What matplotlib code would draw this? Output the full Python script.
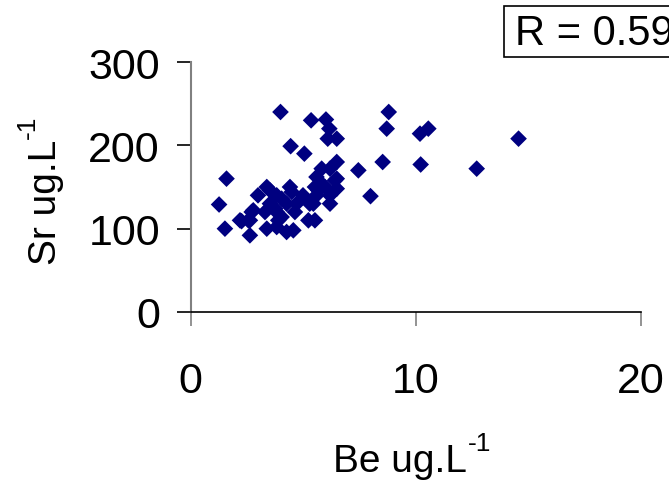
import matplotlib
matplotlib.use("Agg")
import matplotlib.pyplot as plt
from matplotlib.patches import Rectangle

plt.rcParams['font.family'] = ['Liberation Sans', 'DejaVu Sans']

be = [4.0, 5.36, 6.02, 6.17, 6.1, 6.5, 4.45, 5.06,
      1.6, 7.46, 8.0, 1.27, 1.53, 2.64, 3.39, 3.0,
      8.81, 8.72, 10.2, 10.57, 14.58, 8.54, 10.23, 12.72,
      6.5, 6.2, 5.83, 5.6, 6.5, 5.53, 5.98, 6.5,
      5.0, 5.6, 6.2, 4.42, 3.83, 4.27, 4.72, 5.46, 6.2,
      3.53, 2.79, 3.31, 3.83, 4.64, 2.2, 2.64, 3.9, 5.24, 5.53,
      3.39, 4.27, 4.57,
      3.76, 4.05, 3.83, 4.5, 3.53, 5.9, 6.42, 2.57, 2.27, 5.3, 4.05, 5.68, 2.72]
sr = [240, 230, 231, 220, 208, 208, 199, 190,
      160, 170, 139, 129, 100, 92, 150, 140,
      240, 220, 214, 220, 208, 180, 177, 172,
      180, 172, 172, 162, 160, 150, 150, 148,
      140, 140, 140, 150, 140, 130, 130, 130, 130,
      130, 122, 120, 120, 120, 110, 110, 110, 110, 110,
      100, 96, 98,
      124, 114, 102, 144, 146, 152, 158, 110, 109, 130, 136, 146, 120]

x_ticks = [0, 10, 20]
y_ticks = [0, 100, 200, 300]
r_text = "R = 0.59"
x_label, y_label, unit_sup = "Be ug.L", "Sr ug.L", "-1"

W, H = 669, 485
fig = plt.figure(figsize=(W / 100, H / 100), dpi=100)
ax = fig.add_axes([190.5 / W, 1 - 313 / H, 450 / W, 250 / H])

ax.scatter(be, sr, marker='D', s=72, color='#000080', edgecolors='none', zorder=3)

ax.set_xlim(0, 20)
ax.set_ylim(0, 300)
ax.set_xticks(x_ticks)
ax.set_yticks(y_ticks)
ax.tick_params(axis='x', direction='out', length=10, width=1.2, color='#808080',
               labelsize=31, pad=25)
ax.tick_params(axis='y', direction='out', length=10, width=1.2, color='black',
               labelsize=31, pad=12)

for s in ['top', 'right']:
    ax.spines[s].set_visible(False)
ax.spines['left'].set_color('#808080')
ax.spines['left'].set_linewidth(1.5)
ax.spines['bottom'].set_color('black')
ax.spines['bottom'].set_linewidth(1.2)

# axis titles with raised "-1"
fig.canvas.draw()
r = fig.canvas.get_renderer()
tx = fig.text(333 / W, 1 - 472 / H, x_label, fontsize=28, ha='left', va='baseline')
ex = tx.get_window_extent(r)
fig.text((ex.x1 + 1) / W, 1 - 451 / H, unit_sup, fontsize=19, ha='left', va='baseline')

ty = fig.text(56 / W, 1 - 265 / H, y_label, fontsize=28, ha='left', va='baseline',
              rotation=90, rotation_mode='anchor')
ey = ty.get_window_extent(r)
fig.text(35 / W, (ey.y1 + 1) / H, unit_sup, fontsize=19, ha='left', va='baseline',
         rotation=90, rotation_mode='anchor')

fig.patches.append(Rectangle((504 / W, 1 - 58 / H), 200 / W, 51 / H,
                             transform=fig.transFigure, facecolor='white',
                             edgecolor='black', linewidth=1.2))
fig.text(515 / W, 1 - 34 / H, r_text, fontsize=30, va='center', ha='left')

fig.savefig('out.png', dpi=100)
